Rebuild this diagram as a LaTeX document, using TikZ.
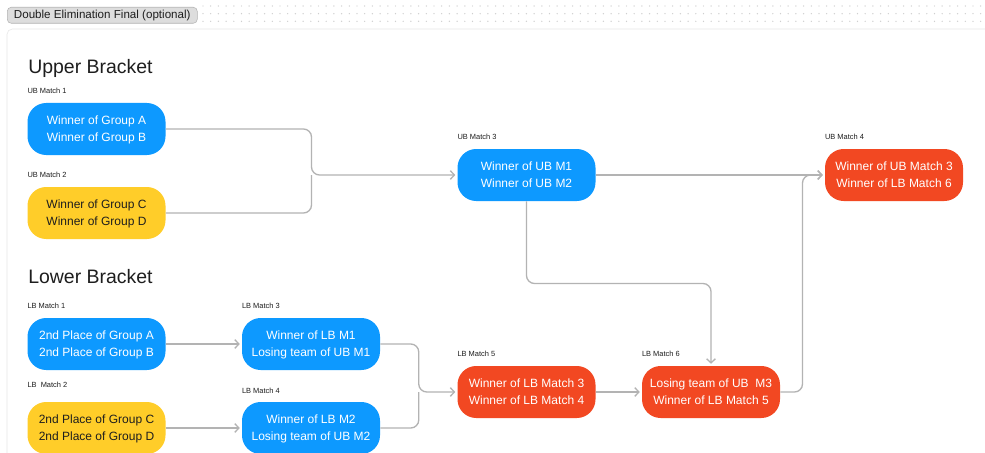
\documentclass[tikz,border=0pt]{standalone}
\usepackage{fontspec}
\setmainfont{Liberation Sans}
\usetikzlibrary{arrows.meta,calc,positioning}

\definecolor{ubblue}{HTML}{0D99FF}
\definecolor{ubyellow}{HTML}{FFCD29}
\definecolor{ubred}{HTML}{F24822}
\definecolor{wiregray}{HTML}{B3B3B3}
\definecolor{framegray}{HTML}{E6E6E6}
\definecolor{inkdark}{HTML}{1E1E1E}

\tikzset{
  match/.style={rectangle, rounded corners=14pt, minimum width=103.5pt, minimum height=39pt,
    inner sep=0pt, align=center, text depth=0pt, font=\fontsize{9}{12.75}\selectfont},
  bluematch/.style={match, fill=ubblue, text=white},
  yellowmatch/.style={match, fill=ubyellow, text=inkdark},
  redmatch/.style={match, fill=ubred, text=white},
  tag/.style={anchor=south west, inner sep=0pt, yshift=6.4pt, text=inkdark, font=\fontsize{5.6}{6}\selectfont},
  wire/.style={draw=wiregray, line width=1pt, rounded corners=6pt},
  arrowwire/.style={wire, shorten >=1.5pt, -{Straight Barb[length=3pt,width=6.5pt]}},
  heading/.style={anchor=base west, inner sep=0pt, text=inkdark, font=\fontsize{14.6}{16}\selectfont}
}

\begin{document}
\begin{tikzpicture}[x=0.75pt,y=-0.75pt]
\useasboundingbox (0,0) rectangle (985,453);
\fill[white] (0,0) rectangle (985,453);
% canvas dots and frame
\foreach \i in {0,...,101} \foreach \j in {6,13.7,21.3} \fill[framegray!90!black] (203+\i*7.7,\j) circle (0.55pt);
\draw[framegray, fill=white, rounded corners=4pt] (7,29) rectangle (1010,480);
\node[anchor=north west, minimum width=142.5pt, minimum height=12pt, inner sep=0pt, fill=framegray!85!black!25!framegray, draw=wiregray, rounded corners=3pt, text=inkdark, font=\fontsize{8.7}{10}\selectfont] (title) at (7,7) {Double Elimination Final (optional)};

\node[heading] (upper) at (28,74) {Upper Bracket};
\node[heading] (lower) at (28,283) {Lower Bracket};

% upper bracket
\node[bluematch, label={[tag]north west:UB Match 1}] (ub1) at (96.5,129) {Winner of Group A\\Winner of Group B};
\node[yellowmatch, label={[tag]north west:UB Match 2}] (ub2) at (96.5,213) {Winner of Group C\\Winner of Group D};
\node[bluematch, label={[tag]north west:UB Match 3}] (ub3) at (526.5,175) {Winner of UB M1\\Winner of UB M2};
\node[redmatch, label={[tag]north west:UB Match 4}] (ub4) at (894,175) {Winner of UB Match 3\\Winner of LB Match 6};

% lower bracket
\node[bluematch, label={[tag]north west:LB Match 1}] (lb1) at (96.5,344) {2nd Place of Group A\\2nd Place of Group B};
\node[yellowmatch, label={[tag,yshift=4pt]north west:LB~~Match 2}] (lb2) at (96.5,428) {2nd Place of Group C\\2nd Place of Group D};
\node[bluematch, label={[tag]north west:LB Match 3}] (lb3) at (311,344) {Winner of LB M1\\Losing team of UB M1};
\node[bluematch, label={[tag,yshift=-0.5pt]north west:LB Match 4}] (lb4) at (311,428) {Winner of LB M2\\Losing team of UB M2};
\node[redmatch, label={[tag]north west:LB Match 5}] (lb5) at (526.5,392) {Winner of LB Match 3\\Winner of LB Match 4};
\node[redmatch, label={[tag]north west:LB Match 6}] (lb6) at (711,392) {Losing team of UB~~M3\\Winner of LB Match 5};

\coordinate (ubjoin) at ($(ub1.east)!.5!(ub3.west)$);
\coordinate (lbjoin) at ($(lb3.east)!.5!(lb5.west)$);

\draw[arrowwire] (ub1.east) -| (ubjoin |- ub3.west) -- (ub3.west);
\draw[wire] (ub2.east) -| (ubjoin |- ub3.west);
\draw[arrowwire] (ub3.east) -- (ub4.west);
\draw[arrowwire] (ub3.south) |- ($(ub3.south)!.5!(lb6.north)$) -| (lb6.north);
\draw[arrowwire] (lb6.east) -| ($(lb6.east)!.5!(ub4.west)$) |- (ub4.west);

\draw[arrowwire] (lb1.east) -- (lb3.west);
\draw[arrowwire] (lb2.east) -- (lb4.west);
\draw[arrowwire] (lb3.east) -| (lbjoin |- lb5.west) -- (lb5.west);
\draw[wire] (lb4.east) -| (lbjoin |- lb5.west);
\draw[arrowwire] (lb5.east) -- (lb6.west);
\end{tikzpicture}
\end{document}
